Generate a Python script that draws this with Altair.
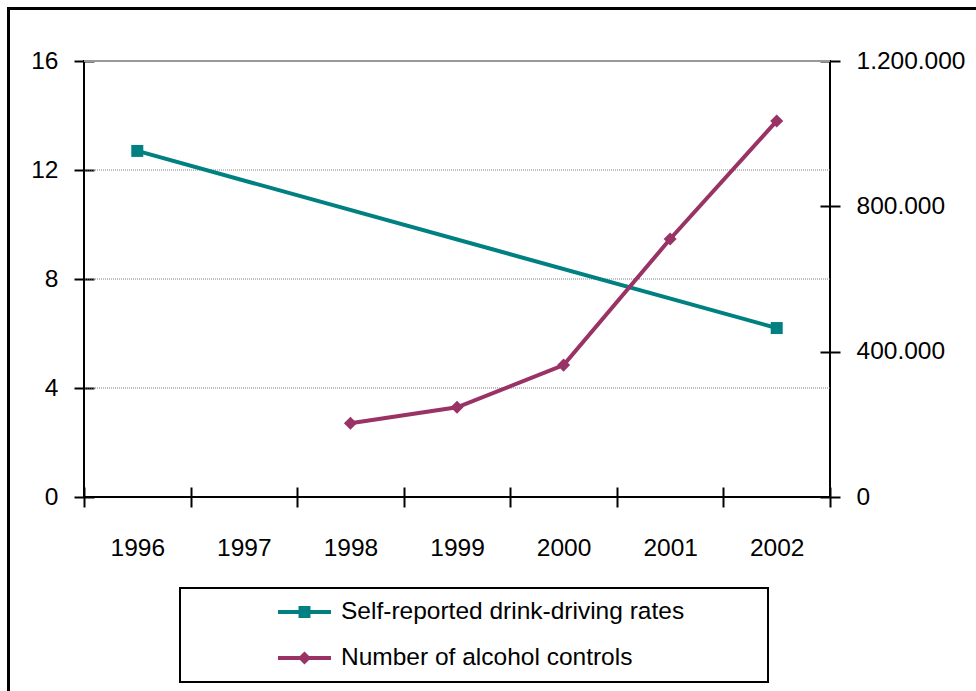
import altair as alt
import pandas as pd

# ---------------- data ----------------
years = [1996, 1997, 1998, 1999, 2000, 2001, 2002]
rate_years = [1996, 2002]
rate_values = [12.7, 6.2]
control_years = [1998, 1999, 2000, 2001, 2002]
control_values = [203000, 247000, 363000, 710000, 1035000]
series_names = ["Self-reported drink-driving rates", "Number of alcohol controls"]
left_ticks = [0, 4, 8, 12, 16]
right_ticks = [0, 400000, 800000, 1200000]
dotted_grid = [4, 8, 12]
solid_grid = [16]
band_edges = [1995.5, 1996.5, 1997.5, 1998.5, 1999.5, 2000.5, 2001.5, 2002.5]

TEAL = "#008080"
PLUM = "#993366"
FONT = "Liberation Sans"
FS = 24.5
W, H = 746, 436

rate_df = pd.DataFrame({"year": rate_years, "value": rate_values, "series": series_names[0]})
ctrl_df = pd.DataFrame({"year": control_years, "value": control_values, "series": series_names[1]})
dot_df = pd.DataFrame({"value": dotted_grid})
solid_df = pd.DataFrame({"value": solid_grid})
one = pd.DataFrame({"k": [0]})

xscale = alt.Scale(domain=[band_edges[0], band_edges[-1]], nice=False, zero=False)
lscale = alt.Scale(domain=[left_ticks[0], left_ticks[-1]], nice=False)
rscale = alt.Scale(domain=[right_ticks[0], right_ticks[-1]], nice=False)

sq_path = "M-1,0H1M-0.15,-0.15H0.15V0.15H-0.15Z"
di_path = "M-1,0H1M-0.14,0L0,-0.14L0.14,0L0,0.14Z"

left_axis = alt.Axis(values=left_ticks, orient="left", domain=False, grid=False, tickSize=20, offset=-10,
                     tickColor="black", tickWidth=2, labelPadding=16, labelFont=FONT, labelFontSize=FS,
                     labelColor="black", title=None)
tick_axis = alt.Axis(values=band_edges, orient="bottom", labels=False, domain=False, grid=False, ticks=True,
                     tickSize=20, offset=-10, tickColor="black", tickWidth=2, title=None)
label_axis = alt.Axis(values=years, orient="bottom", ticks=False, tickSize=0, domain=False, grid=False,
                      labelPadding=39, labelFont=FONT, labelFontSize=FS, labelColor="black", format="d",
                      title=None)
right_axis = alt.Axis(orient="right", values=right_ticks, domain=False, grid=False, tickSize=20, offset=-10,
                      tickColor="black", tickWidth=2, labelPadding=16, labelFont=FONT, labelFontSize=FS,
                      labelColor="black", title=None,
                      labelExpr="replace(format(datum.value, ','), regexp(',', 'g'), '.')")


def make_legend(path, col, ypos):
    return alt.Legend(
        title=None, orient="none", legendX=192, legendY=ypos, padding=0, clipHeight=46, rowPadding=0,
        symbolType=path, symbolSize=2809, symbolStrokeWidth=4, symbolStrokeColor=col, symbolFillColor=col,
        symbolOpacity=1, labelFont=FONT, labelFontSize=FS, labelColor="black", labelOffset=8, labelLimit=600,
    )


# ---- left-scale layer ----
grid_dot = alt.Chart(dot_df).mark_rule(color="#808080", strokeWidth=1, strokeDash=[1, 1]).encode(
    y=alt.Y("value:Q", scale=lscale, axis=left_axis)
)
grid_top = alt.Chart(solid_df).mark_rule(color="#999999", strokeWidth=2).encode(
    y=alt.Y("value:Q", scale=lscale, axis=left_axis)
)
rate_line = alt.Chart(rate_df).mark_line(strokeWidth=4, color=TEAL).encode(
    x=alt.X("year:Q", scale=xscale, axis=tick_axis),
    y=alt.Y("value:Q", scale=lscale, axis=left_axis),
)
rate_pts = alt.Chart(rate_df).mark_point(shape="square", filled=True, size=144, opacity=1).encode(
    x=alt.X("year:Q", scale=xscale, axis=tick_axis),
    y=alt.Y("value:Q", scale=lscale, axis=left_axis),
    fill=alt.Fill("series:N", scale=alt.Scale(domain=[series_names[0]], range=[TEAL]),
                  legend=make_legend(sq_path, TEAL, 528)),
)
left_layer = alt.layer(grid_dot, grid_top, rate_line, rate_pts)

# ---- right-scale layer ----
ctrl_line = alt.Chart(ctrl_df).mark_line(strokeWidth=4, color=PLUM).encode(
    x=alt.X("year:Q", scale=xscale, axis=label_axis),
    y=alt.Y("value:Q", scale=rscale, axis=right_axis),
)
ctrl_pts = alt.Chart(ctrl_df).mark_point(shape="diamond", filled=True, size=170, opacity=1).encode(
    x=alt.X("year:Q", scale=xscale, axis=label_axis),
    y=alt.Y("value:Q", scale=rscale, axis=right_axis),
    color=alt.Color("series:N", scale=alt.Scale(domain=[series_names[1]], range=[PLUM]),
                    legend=make_legend(di_path, PLUM, 574)),
)
right_layer = alt.layer(ctrl_line, ctrl_pts)

# ---- decorations: legend box and outer frame ----
legend_box = alt.Chart(one).mark_rect(fill=None, fillOpacity=0, stroke="black", strokeWidth=2).encode(
    x=alt.value(96), x2=alt.value(684), y=alt.value(527), y2=alt.value(621)
)
frame = alt.Chart(one).mark_rect(fill=None, fillOpacity=0, stroke="black", strokeWidth=3).encode(
    x=alt.value(-75.5), x2=alt.value(912), y=alt.value(-52.5), y2=alt.value(650)
)

chart = (
    alt.layer(left_layer, right_layer, legend_box, frame)
    .resolve_scale(y="independent")
    .resolve_axis(x="independent")
    .properties(width=W, height=H, autosize=alt.AutoSizeParams(type="none"),
                padding={"left": 84, "top": 61, "right": 146, "bottom": 194}, background="white")
    .configure(font=FONT)
    .configure_view(stroke="black", strokeWidth=2)
)

chart.save("out.html", embed_options={"renderer": "svg", "actions": False})
